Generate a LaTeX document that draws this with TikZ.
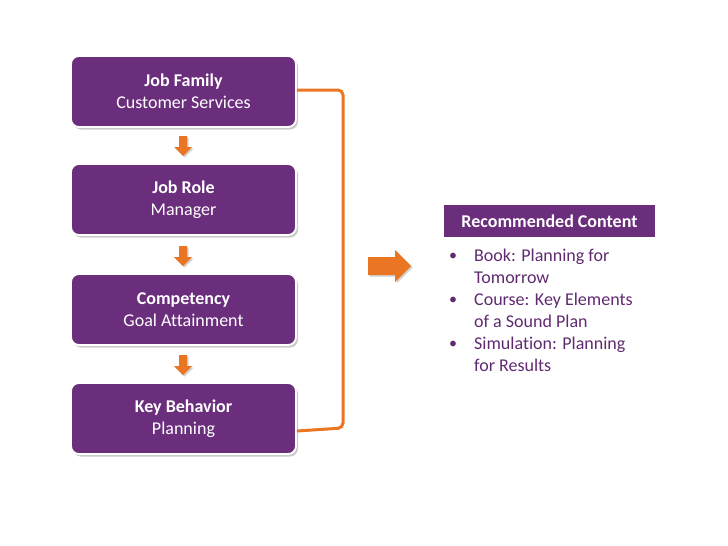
\documentclass[tikz,border=0pt]{standalone}
\usepackage{fontspec}
\setmainfont{Carlito}[Ligatures={NoCommon}]
\usetikzlibrary{shadows}
\definecolor{pur}{RGB}{106,46,124}
\definecolor{ptext}{RGB}{96,42,112}
\definecolor{org}{RGB}{234,118,36}
\begin{document}
\begin{tikzpicture}[x=1pt,y=-1pt,
  box/.style={draw=white,line width=1.8pt,fill=pur,rounded corners=8pt,minimum width=225pt,minimum height=71pt,inner sep=0pt,text=white,align=center,font=\fontsize{18}{22}\selectfont,drop shadow={shadow xshift=2pt,shadow yshift=-2.5pt,opacity=0.35,fill=black!60}},
  darr/.style={fill=org,drop shadow={shadow xshift=1.5pt,shadow yshift=-1.5pt,opacity=0.3,fill=black!60}},
  btxt/.style={anchor=base west,inner sep=0pt,text=ptext,font=\fontsize{18}{22}\selectfont},
  bul/.style={anchor=base,inner sep=0pt,text=ptext,font=\fontsize{16}{18}\selectfont}]
\useasboundingbox (0,0) rectangle (728,546);
\node[box] (b1) at (183.5,91.5) {\textbf{Job Family}\\Customer Services};
\node[box] (b2) at (183.5,199.5) {\textbf{Job Role}\\Manager};
\node[box] (b3) at (183.5,309.5) {\textbf{Competency}\\Goal Attainment};
\node[box] (b4) at (183.5,418.5) {\textbf{Key Behavior}\\Planning};
% small arrows
\foreach \y in {136,246,355}{
  \path[darr] (179,\y) -- (187,\y) -- (187,\y+11) -- (192,\y+11) -- (183,\y+20) -- (174,\y+11) -- (179,\y+11) -- cycle;
}
% bracket
\coordinate (t0) at (298,90);
\coordinate (t1) at (343,93);
\coordinate (t2) at (343,428);
\coordinate (t3) at (298,431);
\draw[org,line width=3pt,rounded corners=5pt] (b1.east|-t0) -- (t0-|t1) -- (t2) -- (t3-|b4.east);
% big arrow
\path[darr] (368,257) -- (395,257) -- (395,250) -- (411,266) -- (395,282) -- (395,275) -- (368,275) -- cycle;
% header
\node[fill=pur,minimum width=211pt,minimum height=32pt,inner sep=0pt,text=white,font=\fontsize{18}{22}\selectfont\bfseries] (hd) at (549.5,221) {Recommended Content};
% bullets
\node[bul] (u1) at (453,260) {•};
\node[bul] (u2) at (453,304) {•};
\node[bul] (u3) at (453,348) {•};
\node[btxt] (l1) at (474,261) {Book: Planning for};
\node[btxt] (l2) at (474,283) {Tomorrow};
\node[btxt] (l3) at (474,305) {Course: Key Elements};
\node[btxt] (l4) at (474,327) {of a Sound Plan};
\node[btxt] (l5) at (474,349) {Simulation: Planning};
\node[btxt] (l6) at (474,371) {for Results};
\end{tikzpicture}
\end{document}
